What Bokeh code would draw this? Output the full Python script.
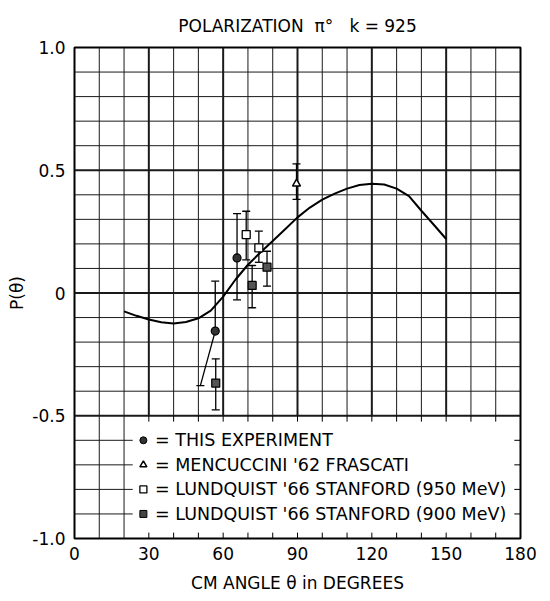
from bokeh.plotting import figure
from bokeh.models import Range1d, FixedTicker
from bokeh.embed import file_html
from bokeh.resources import INLINE
from bokeh.core.properties import value

FONT = "DejaVu Sans"

# ---- data ----
theta_curve = [20, 25, 30, 35, 40, 45, 50, 55, 60, 65, 70, 75, 80, 85, 90,
               95, 100, 105, 110, 115, 120, 125, 130, 135, 140, 145, 150]
p_curve = [-0.075, -0.093, -0.108, -0.119, -0.124, -0.118, -0.103, -0.072,
           -0.015, 0.055, 0.115, 0.165, 0.212, 0.26, 0.308, 0.348, 0.38,
           0.405, 0.425, 0.44, 0.445, 0.442, 0.425, 0.395, 0.335, 0.278, 0.22]

exp_theta = [56.8, 65.6]
exp_p = [-0.155, 0.143]
exp_p_hi = [0.048, 0.323]
exp_lo_theta = [50.8, 65.6]
exp_lo_p = [-0.377, -0.028]

men_theta = [89.6]
men_p = [0.445]
men_lo = [0.381]
men_hi = [0.526]

l950_theta = [69.3, 74.4]
l950_p = [0.238, 0.184]
l950_lo = [0.135, 0.125]
l950_hi = [0.333, 0.252]

l900_theta = [57.0, 71.7, 77.7]
l900_p = [-0.367, 0.031, 0.105]
l900_lo = [-0.476, -0.06, 0.028]
l900_hi = [-0.268, 0.112, 0.17]

x_ticks = [0, 30, 60, 90, 120, 150, 180]
x_tick_labels = ["0", "30", "60", "90", "120", "150", "180"]
y_ticks = [-1.0, -0.5, 0.0, 0.5, 1.0]
y_tick_labels = ["-1.0", "-0.5", "0", "0.5", "1.0"]

title_text = "POLARIZATION\u00a0\u00a0π°\u00a0\u00a0\u00a0k = 925"

legend_labels = ["= THIS EXPERIMENT",
                 "= MENCUCCINI '62 FRASCATI",
                 "= LUNDQUIST '66 STANFORD (950 MeV)",
                 "= LUNDQUIST '66 STANFORD (900 MeV)"]
legend_rows = [-0.6, -0.7, -0.8, -0.9]

# ---- figure ----
p = figure(width=550, height=601, output_backend="svg", toolbar_location=None,
           x_range=Range1d(0, 180), y_range=Range1d(-1.0, 1.0),
           min_border_left=74, min_border_right=30, min_border_top=47,
           min_border_bottom=63, title=title_text)
p.title.align = "center"
p.title.offset = -8
p.title.standoff = 24
p.title.text_font = FONT
p.title.text_font_size = "17px"
p.title.text_font_style = "normal"
p.title.text_color = "black"
p.xgrid.visible = False
p.ygrid.visible = False
p.outline_line_color = "black"
p.outline_line_width = 2
p.background_fill_color = "white"
p.border_fill_color = "white"

for ax in (p.xaxis[0], p.yaxis[0]):
    ax.axis_line_color = None
    ax.major_tick_in = 0
    ax.major_tick_out = 0
    ax.minor_tick_in = 0
    ax.minor_tick_out = 0
    ax.major_label_text_font = FONT
    ax.major_label_text_font_size = "17px"
    ax.major_label_text_color = "black"
    ax.axis_label_text_font = FONT
    ax.axis_label_text_font_size = "17px"
    ax.axis_label_text_font_style = "normal"
    ax.axis_label_text_color = "black"

p.xaxis.ticker = FixedTicker(ticks=x_ticks)
p.xaxis.major_label_overrides = {t: s for t, s in zip(x_ticks, x_tick_labels)}
p.xaxis.major_label_standoff = 8
p.xaxis.axis_label = "CM ANGLE θ in DEGREES"
p.xaxis.axis_label_standoff = 10

p.yaxis.ticker = FixedTicker(ticks=y_ticks)
p.yaxis.major_label_overrides = {t: s for t, s in zip(y_ticks, y_tick_labels)}
p.yaxis.major_label_standoff = 9
p.yaxis.axis_label = "P(θ)"
p.yaxis.axis_label_standoff = 2

# ---- grid (legend box at lower right is left blank) ----
vx0, vy0, vx1, vy1, vw = [], [], [], [], []
for v in range(10, 180, 10):
    vx0.append(v); vx1.append(v)
    vy0.append(-1.0 if v <= 20 else -0.5); vy1.append(1.0)
    vw.append(2.0 if v % 30 == 0 else 1.0)
p.segment(vx0, vy0, vx1, vy1, line_color="#1a1a1a", line_width=vw)

hx0, hy0, hx1, hy1, hw = [], [], [], [], []
for i in range(-9, 10):
    h = i / 10
    hx0.append(0); hx1.append(23.5 if h < -0.5 else 180)
    hy0.append(h); hy1.append(h)
    hw.append(2.0 if i % 5 == 0 else 1.0)
p.segment(hx0, hy0, hx1, hy1, line_color="#1a1a1a", line_width=hw)

# ticks inside the legend box
tx = list(range(30, 180, 10))
p.segment(tx, [-1.0] * len(tx), tx, [-0.976] * len(tx), line_color="black", line_width=1)
p.segment(tx, [-0.5] * len(tx), tx, [-0.524] * len(tx), line_color="black", line_width=1)
p.segment([180] * 4, legend_rows, [177.5] * 4, legend_rows, line_color="black", line_width=1)

# ---- theory curve ----
p.line(theta_curve, p_curve, line_color="black", line_width=2, line_join="round")

# ---- error bars ----
def bars(xs, lo, hi):
    p.segment(xs, lo, xs, hi, line_color="black", line_width=1.3)
    p.scatter(xs, lo, marker="dash", size=8, line_color="black", line_width=1.3)
    p.scatter(xs, hi, marker="dash", size=8, line_color="black", line_width=1.3)

# this experiment: upper bar vertical, lower bar drawn to offset end
p.segment(exp_theta, exp_p, exp_theta, exp_p_hi, line_color="black", line_width=1.3)
p.scatter(exp_theta, exp_p_hi, marker="dash", size=8, line_color="black", line_width=1.3)
p.segment(exp_theta, exp_p, exp_lo_theta, exp_lo_p, line_color="black", line_width=1.3)
p.scatter(exp_lo_theta, exp_lo_p, marker="dash", size=8, line_color="black", line_width=1.3)

bars(men_theta, men_lo, men_hi)
bars(l950_theta, l950_lo, l950_hi)
bars(l900_theta, l900_lo, l900_hi)

# ---- markers ----
p.scatter(exp_theta, exp_p, marker="circle", size=8, fill_color="#333333",
          line_color="black", line_width=1.2)
p.scatter(men_theta, men_p, marker="triangle", size=8, fill_color="white",
          line_color="black", line_width=1.5)
p.scatter(l950_theta, l950_p, marker="square", size=8, fill_color="white",
          line_color="black", line_width=1.3)
p.scatter(l900_theta, l900_p, marker="square", size=8, fill_color="#555555",
          line_color="black", line_width=1.2)

# ---- legend (hand drawn, like the original) ----
lm_x = 27.8
p.scatter([lm_x], [legend_rows[0]], marker="circle", size=7, fill_color="#333333", line_color="black")
p.scatter([lm_x], [legend_rows[1]], marker="triangle", size=7, fill_color="white", line_color="black", line_width=1.5)
p.scatter([lm_x], [legend_rows[2]], marker="square", size=7, fill_color="white", line_color="black", line_width=1.3)
p.scatter([lm_x], [legend_rows[3]], marker="square", size=7, fill_color="#444444", line_color="black")
p.text([32.5] * 4, legend_rows, text=legend_labels, text_font=value(FONT),
       text_font_size="17.5px", text_baseline="middle", text_align="left",
       text_color="black")

open("out.html", "w").write(file_html(p, INLINE))
